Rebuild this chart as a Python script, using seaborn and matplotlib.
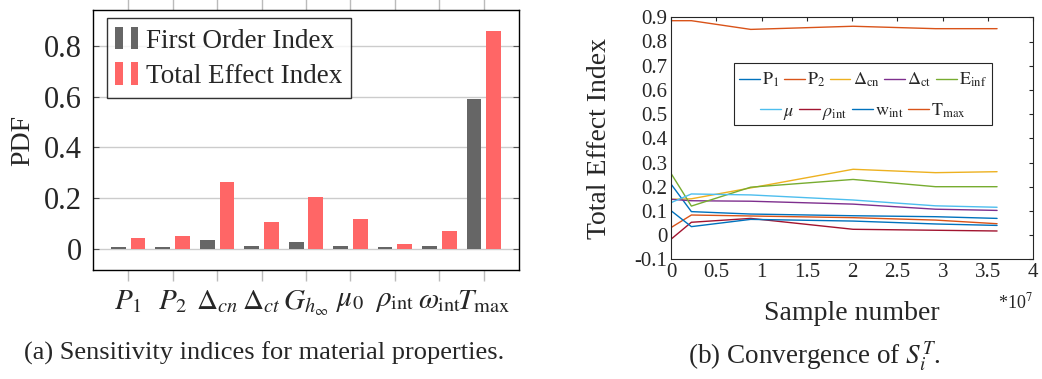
import numpy as np
import pandas as pd
import matplotlib
matplotlib.use("Agg")
import matplotlib.pyplot as plt
from matplotlib.patches import Patch, Rectangle
from matplotlib.legend_handler import HandlerTuple
from matplotlib.ticker import FuncFormatter
import seaborn as sns

# ---- sensitivity indices (left panel) ----
params = [r"$P_1$", r"$P_2$", r"$\Delta_{cn}$", r"$\Delta_{ct}$", r"$G_{h_\infty}$",
          r"$\mu_0$", r"$\rho_{\mathrm{int}}$", r"$\omega_{\mathrm{int}}$", r"$T_{\max}$"]
first_order = [0.006, 0.006, 0.035, 0.010, 0.028, 0.010, 0.006, 0.012, 0.590]
total_effect = [0.045, 0.050, 0.265, 0.106, 0.205, 0.119, 0.020, 0.072, 0.858]
bar_labels = ["First Order Index", "Total Effect Index"]

# ---- convergence of total effect index (right panel) ----
samples = [0.0, 2.25e6, 8.8e6, 2.01e7, 2.92e7, 3.6e7]
conv_labels = [r"$\mathrm{P}_1$", r"$\mathrm{P}_2$", r"$\Delta_{\mathrm{cn}}$",
               r"$\Delta_{\mathrm{ct}}$", r"$\mathrm{E}_{\mathrm{inf}}$", r"$\mu$",
               r"$\rho_{\mathrm{int}}$", r"$\mathrm{w}_{\mathrm{int}}$", r"$\mathrm{T}_{\mathrm{max}}$"]
s_p1 = [0.211, 0.097, 0.087, 0.080, 0.076, 0.069]
s_p2 = [0.031, 0.083, 0.079, 0.072, 0.062, 0.047]
s_dcn = [0.148, 0.150, 0.195, 0.272, 0.258, 0.262]
s_dct = [0.148, 0.142, 0.140, 0.128, 0.107, 0.102]
s_einf = [0.255, 0.120, 0.198, 0.230, 0.200, 0.200]
s_mu = [0.134, 0.170, 0.166, 0.145, 0.121, 0.115]
s_rho = [-0.017, 0.053, 0.069, 0.024, 0.020, 0.017]
s_wint = [0.101, 0.035, 0.065, 0.058, 0.046, 0.040]
s_tmax = [0.886, 0.886, 0.850, 0.863, 0.853, 0.853]
conv_series = [s_p1, s_p2, s_dcn, s_dct, s_einf, s_mu, s_rho, s_wint, s_tmax]
conv_colors = ["#0072BD", "#D95319", "#EDB120", "#7E2F8E", "#77AC30",
               "#4DBEEE", "#A2142F", "#0072BD", "#D95319"]

sns.set_style("white")
plt.rcParams["font.family"] = ["Liberation Serif", "DejaVu Serif"]
plt.rcParams["mathtext.fontset"] = "stix"

W, H = 1042, 379
fig = plt.figure(figsize=(W / 100, H / 100), dpi=100)


def box(x0, y0, x1, y1):
    return [x0 / W, 1 - y1 / H, (x1 - x0) / W, (y1 - y0) / H]


# ================= left panel =================
axl = fig.add_axes(box(93, 10.3, 519, 270))
bars = pd.DataFrame({
    "param": params * 2,
    "value": first_order + total_effect,
    "index": [bar_labels[0]] * len(params) + [bar_labels[1]] * len(params),
})
bar_colors = ["#666666", "#ff6666"]
sns.barplot(data=bars, x="param", y="value", hue="index", order=params,
            hue_order=bar_labels, palette=bar_colors, width=0.88, gap=0.25,
            saturation=1, ax=axl, legend=False, zorder=3, linewidth=0)
axl.set_xlim(-0.79, 8.79)
axl.set_ylim(-0.083, 0.94)
axl.set_yticks([0, 0.2, 0.4, 0.6, 0.8])
axl.yaxis.set_major_formatter(FuncFormatter(lambda v, p: f"{v:g}"))
axl.grid(axis="y", color="#cccccc", lw=1.0, zorder=0)
axl.set_axisbelow(True)
axl.set_xlabel("")
axl.set_ylabel("PDF", fontsize=20, labelpad=6)
axl.tick_params(axis="y", which="both", left=True, right=True, direction="in",
                length=4, color="#555555", labelsize=22, pad=8)
axl.tick_params(axis="x", which="both", bottom=True, top=True, direction="out",
                length=8, color="#bbbbbb", width=1, labelsize=21, pad=5)
for s in axl.spines.values():
    s.set_color("black")
    s.set_linewidth(1.0)
lh = [(Patch(facecolor=c, edgecolor="none"), Patch(facecolor=c, edgecolor="none"))
      for c in bar_colors]
leg = axl.legend(lh, bar_labels, loc="upper left", bbox_to_anchor=(0.032, 0.969),
                 fontsize=19.5, frameon=True, fancybox=False, edgecolor="black",
                 handler_map={tuple: HandlerTuple(ndivide=None, pad=0.3)},
                 handlelength=0.85, handleheight=0.9, handletextpad=0.3,
                 borderpad=0.32, labelspacing=0.32, borderaxespad=0)
leg.get_frame().set_linewidth(1.0)
fig.text(264 / W, 1 - 353 / H, "(a) Sensitivity indices for material properties.",
         ha="center", va="center", fontsize=19)

# ================= right panel =================
axr = fig.add_axes(box(671, 17.3, 1033.3, 259.3))
conv = pd.DataFrame({
    "samples": np.tile(np.asarray(samples) / 1e7, len(conv_series)),
    "index": np.concatenate(conv_series),
    "param": np.repeat(np.arange(len(conv_series)), len(samples)),
})
sns.lineplot(data=conv, x="samples", y="index", hue="param",
             palette=dict(enumerate(conv_colors)), legend=False, lw=1.0,
             ax=axr, estimator=None, sort=False)
axr.set_xlim(0, 4)
axr.set_ylim(-0.1, 0.9)
axr.set_xticks(np.arange(0, 4.01, 0.5))
axr.set_yticks(np.arange(-0.1, 0.91, 0.1))
fmt = FuncFormatter(lambda v, p: f"{round(v, 2):g}")
axr.xaxis.set_major_formatter(fmt)
axr.yaxis.set_major_formatter(fmt)
axr.tick_params(which="both", direction="in", top=True, right=True, length=3,
                width=0.8, color="#262626", labelsize=15, pad=2.5)
for s in axr.spines.values():
    s.set_color("#262626")
    s.set_linewidth(0.8)
axr.set_xlabel("Sample number", fontsize=20, labelpad=14)
axr.set_ylabel("Total Effect Index", fontsize=20, labelpad=16)
axr.text(1.0, -0.18, r"*10$^7$", transform=axr.transAxes, ha="right", va="center",
         fontsize=13)

# legend: two centred rows inside one frame
lkw = dict(fontsize=13, frameon=False, handlelength=1.15, handletextpad=0.12,
           columnspacing=0.25, borderpad=0, borderaxespad=0)
row1 = [0, 1, 2, 3, 4]
row2 = [5, 6, 7, 8]
leg_a = axr.legend([axr.lines[i] for i in row1], [conv_labels[i] for i in row1],
                   ncol=5, loc="center", bbox_to_anchor=(0.53, 0.74), **lkw)
axr.add_artist(leg_a)
axr.legend([axr.lines[i] for i in row2], [conv_labels[i] for i in row2],
           ncol=4, loc="center", bbox_to_anchor=(0.53, 0.61), **lkw)
axr.add_patch(Rectangle((0.174, 0.555), 0.712, 0.256, transform=axr.transAxes,
                        facecolor="white", edgecolor="#262626", lw=0.8, zorder=4))
for lg in (leg_a, axr.get_legend()):
    lg.set_zorder(5)

fig.text(814 / W, 1 - 357 / H, r"(b) Convergence of $S_i^T$.",
         ha="center", va="center", fontsize=19.5)

fig.savefig("out.png", dpi=100)
